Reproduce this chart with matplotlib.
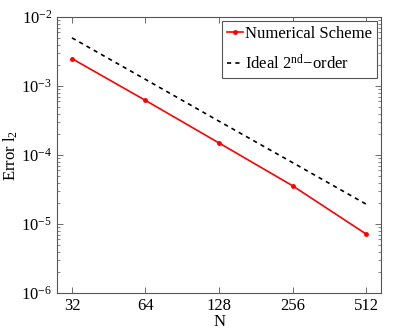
import numpy as np
import matplotlib
matplotlib.use('Agg')
from matplotlib import pyplot as plt
from matplotlib.ticker import FixedLocator, FixedFormatter, LogLocator, NullFormatter

plt.rcParams['font.family'] = ['Liberation Serif', 'DejaVu Serif']
plt.rcParams['mathtext.fontset'] = 'custom'
plt.rcParams['mathtext.rm'] = 'Liberation Serif'
plt.rcParams['mathtext.it'] = 'Liberation Serif:italic'

# Data
N = [32, 64, 128, 256, 512]
err_scheme = [2.5e-3, 6.2e-4, 1.5e-4, 3.6e-5, 7.2e-6]
err_ideal = [5.0e-3, 1.25e-3, 3.1e-4, 7.8e-5, 1.95e-5]
xtick_labels = ['32', '64', '128', '256', '512']

fig = plt.figure(figsize=(3.99, 3.35), dpi=100)
ax = fig.add_axes([0.143, 0.125, 0.812, 0.824])

ax.plot(N, err_scheme, 'r.-', linewidth=1.2, markersize=5, label='Numerical Scheme')
ax.plot(N, err_ideal, 'k--', linewidth=1.2, dashes=(2.5, 2.5), label='Ideal 2$^{\\mathrm{nd}}$\u2212order')

ax.set_xscale('log', base=2)
ax.set_yscale('log')
ax.set_xlim(27.8, 590)
ax.set_ylim(1e-6, 1e-2)

ax.xaxis.set_major_locator(FixedLocator(N))
ax.xaxis.set_major_formatter(FixedFormatter(xtick_labels))
ax.xaxis.set_minor_locator(FixedLocator([]))
ax.yaxis.set_major_locator(LogLocator(base=10, numticks=10))
ax.yaxis.set_minor_locator(LogLocator(base=10, subs=np.arange(2, 10), numticks=20))
ax.yaxis.set_minor_formatter(NullFormatter())

ax.tick_params(which='both', direction='in', top=True, right=True, labelsize=12, colors='black')
ax.tick_params(which='major', length=4, width=0.6, color='#555555')
ax.tick_params(which='minor', length=2, width=0.5, color='#555555')
for s in ax.spines.values():
    s.set_color('#555555')
    s.set_linewidth(0.8)

ax.set_xlabel('N', fontsize=12, labelpad=0)
ax.set_ylabel('Error l$_2$', fontsize=12, labelpad=1)

leg = ax.legend(loc='upper right', fontsize=12, fancybox=False, framealpha=1,
                edgecolor='#555555', handlelength=1.0, handletextpad=0.1,
                borderaxespad=0.25, borderpad=0.3, labelspacing=0.7)
leg.get_frame().set_linewidth(0.8)

fig.savefig('out.png', dpi=100)
